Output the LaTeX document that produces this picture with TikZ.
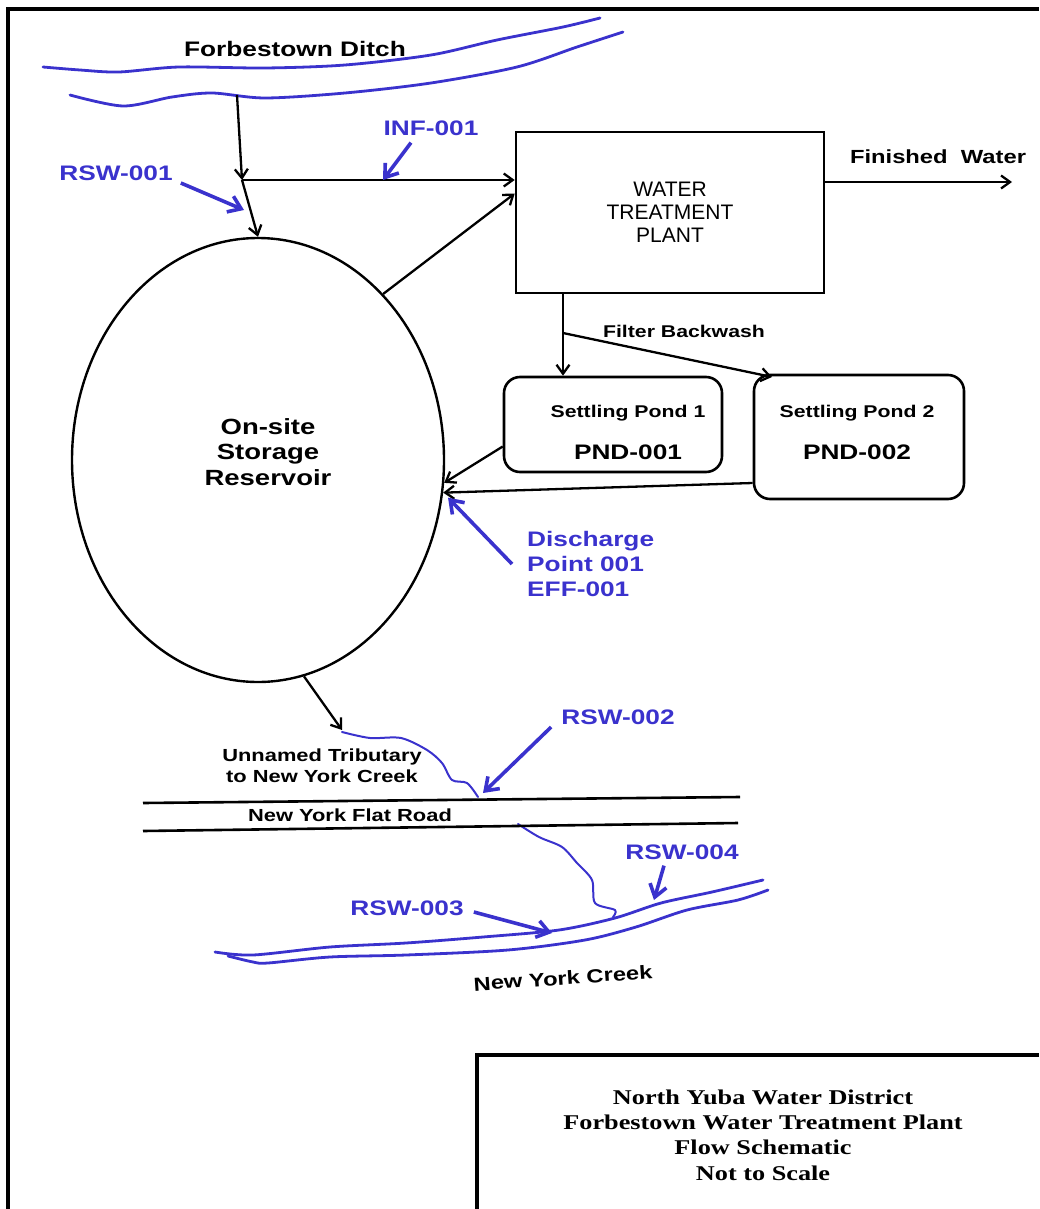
\documentclass[tikz,border=0pt]{standalone}
\usepackage{fontspec}
\newfontfamily\lblfont[FakeStretch=1.25]{Liberation Sans}
\newfontfamily\boxfont{Liberation Sans}
\newfontfamily\titlefont[FakeStretch=1.25]{Liberation Serif}
\usetikzlibrary{arrows.meta,shapes.geometric}
\definecolor{creekblue}{RGB}{58,50,205}
\newcommand{\fsz}[1]{\fontsize{#1}{1.2\dimexpr#1pt\relax}\selectfont}

\begin{document}
\begin{tikzpicture}[x=1pt,y=-1pt,
    flow/.style={line width=2.3pt, -{Straight Barb[length=9pt,width=13pt,line width=2.3pt]}},
    tag/.style={line width=3.6pt, creekblue, -{Straight Barb[length=12pt,width=17pt,line width=3.6pt]}},
    water/.style={creekblue, line width=2.8pt, line join=round, line cap=round},
    lbl/.style={font=\lblfont\bfseries\fsz{#1}, inner sep=0pt, align=center},
    taglbl/.style={font=\lblfont\bfseries\fsz{21}, text=creekblue, inner sep=0pt, align=left},
    pond/.style={draw, line width=2.6pt, rounded corners=16pt}]

    \useasboundingbox (0,0) rectangle (1039,1209);
    \draw[line width=4.5pt] (8,1209) -- (8,9) -- (1039,9);

    \draw[water] plot[smooth] coordinates {(43,67) (80,70) (119,72) (179,67) (265,68) (345,65) (431,55) (497,40) (563,27) (600,18)};
    \draw[water] plot[smooth] coordinates {(70,95) (123,106) (172,97) (212,93) (265,98) (345,93) (431,83) (517,67) (577,47) (623,32)};
    \node[lbl=21] (ditchlbl) at (295,49) {Forbestown Ditch};

    \node[draw, ellipse, line width=2.4pt, minimum width=372pt, minimum height=444pt, inner sep=0pt] (res) at (258,460) {};
    \node[lbl=22, font=\lblfont\bfseries\fontsize{22}{25.5}\selectfont] (restext) at (268,452) {On-site\\Storage\\Reservoir};

    \node[draw, line width=2.6pt, minimum width=308pt, minimum height=161pt,
          font=\boxfont\fontsize{21}{23}\selectfont, align=center] (wtp) at (670,212.5) {WATER\\TREATMENT\\PLANT};

    \coordinate (ditchout) at (237,95);
    \coordinate (junc) at (242,180);
    \draw[flow] (ditchout) -- (junc);
    \draw[flow] (junc) -- (res.north);
    \draw[flow] (junc) -- (junc -| wtp.west);
    \draw[flow] (res.53) -- ([yshift=19pt]wtp.west);

    \coordinate (fin) at (1012,182);
    \draw[flow] (wtp.east |- fin) -- (fin);
    \node[lbl=19] (finlbl) at (938,157) {Finished\ \ Water};

    \node[pond, minimum width=218pt, minimum height=95pt] (pond1) at (613,424.5) {};
    \node[pond, minimum width=210pt, minimum height=124pt] (pond2) at (859,437) {};
    \node[lbl=17] (p1name) at (628,413) {Settling Pond 1};
    \node[lbl=21] (p1id) at (628,452) {PND-001};
    \node[lbl=17] (p2name) at (857,413) {Settling Pond 2};
    \node[lbl=21] (p2id) at (857,452) {PND-002};

    \coordinate (bwtop) at (563,293);
    \coordinate (bwsplit) at (563,333);
    \coordinate (p2in) at (772,377);
    \draw[flow] (bwtop) -- (bwtop |- pond1.north);
    \draw[flow] (bwsplit) -- (p2in);
    \node[lbl=17] (bwlbl) at (684,331) {Filter Backwash};

    \draw[flow] ([yshift=-22pt]pond1.west) -- (res.-7);
    \draw[flow] ([yshift=-46pt]pond2.west) -- (res.-10);

    \node[taglbl, anchor=west] (dischlbl) at (527,564) {Discharge\\Point 001\\EFF-001};
    \draw[tag, shorten >=7pt] ([xshift=-15pt]dischlbl.west) -- (res.-10);

    \node[taglbl] (inflbl) at (431,128) {INF-001};
    \coordinate (inftip) at (383,180);
    \draw[tag] ([xshift=-20pt,yshift=-7pt]inflbl.south) -- (inftip);

    \node[taglbl] (rsw1) at (116,173) {RSW-001};
    \coordinate (rsw1tip) at (244,210);
    \draw[tag] ([xshift=8pt,yshift=-10pt]rsw1.east) -- (rsw1tip);

    \coordinate (tribtop) at (342,730);
    \draw[flow] (res.-78) -- (tribtop);
    \draw[water, line width=2pt] plot[smooth] coordinates {(342,732) (370,738) (401,738) (427,750) (442,763) (452,780) (467,783) (478,797)};
    \draw[water, line width=2pt] plot[smooth] coordinates {(518,824) (539,837) (562,847) (577,863) (592,880) (595,903) (615,910) (613,917)};
    \node[lbl=17.5] (triblbl) at (322,766) {Unnamed Tributary\\to New York Creek};

    \node[taglbl] (rsw2) at (618,717) {RSW-002};
    \coordinate (rsw2tip) at (483,793);
    \draw[tag] ([xshift=-10pt,yshift=-10pt]rsw2.west) -- (rsw2tip);

    \draw[line width=2.6pt] (143,803) -- (740,797);
    \draw[line width=2.6pt] (143,831) -- (738,823);
    \node[lbl=17.5] (roadlbl) at (350,815) {New York Flat Road};

    \draw[water] plot[smooth] coordinates {(215,952) (253,955) (330,947) (406,943) (483,937) (559,930) (615,918) (661,903) (712,892) (763,880)};
    \draw[water] plot[smooth] coordinates {(228,956) (253,962) (268,963) (330,957) (406,955) (508,950) (585,940) (636,927) (687,910) (738,900) (768,890)};
    \node[lbl=19, rotate=4] (creeklbl) at (563,978) {New York Creek};

    \node[taglbl] (rsw3) at (407,908) {RSW-003};
    \coordinate (rsw3tip) at (552,933);
    \draw[tag] ([xshift=10pt,yshift=-4pt]rsw3.east) -- (rsw3tip);

    \node[taglbl] (rsw4) at (682,852) {RSW-004};
    \coordinate (rsw4tip) at (654,900);
    \draw[tag] ([xshift=-18pt,yshift=-6pt]rsw4.south) -- (rsw4tip);

    \draw[line width=4.5pt] (477,1209) -- (477,1055) -- (1039,1055);
    \node[font=\titlefont\bfseries\fontsize{21}{25.3}\selectfont, align=center] (title) at (763,1135)
        {North Yuba Water District\\Forbestown Water Treatment Plant\\Flow Schematic\\Not to Scale};
\end{tikzpicture}
\end{document}
